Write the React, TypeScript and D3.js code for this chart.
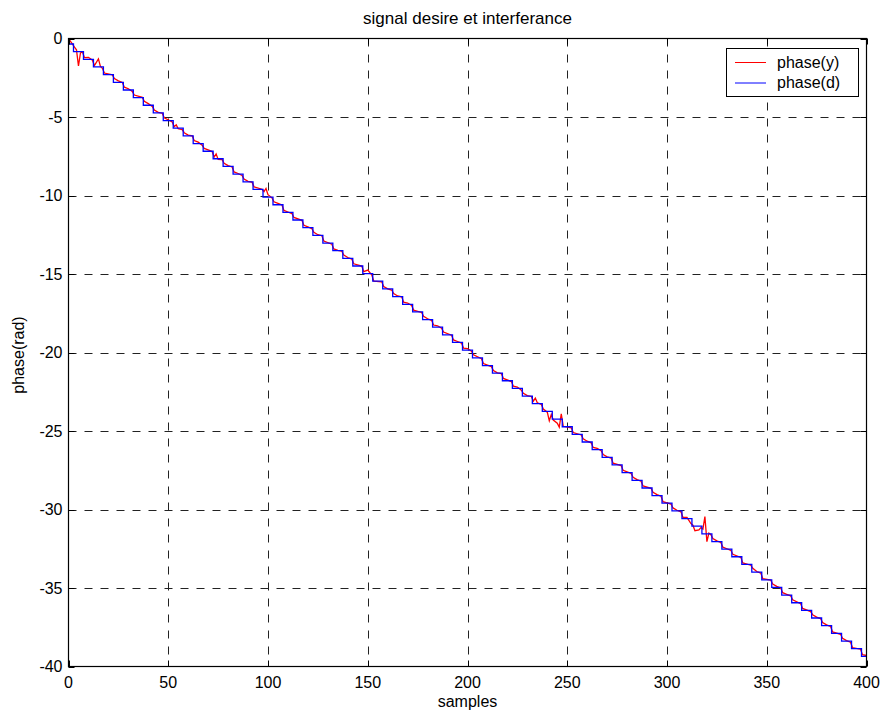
import * as d3 from 'd3';

// phase(d): step levels every 5 samples
const dSamples = [
  0, 5, 10, 15, 20, 25, 30, 35, 40, 45, 50, 55, 60, 65, 70, 75, 80, 85, 90, 95,
  100, 105, 110, 115, 120, 125, 130, 135, 140, 145, 150, 155, 160, 165, 170, 175, 180, 185, 190, 195,
  200, 205, 210, 215, 220, 225, 230, 235, 240, 245, 250, 255, 260, 265, 270, 275, 280, 285, 290, 295,
  300, 305, 310, 315, 320, 325, 330, 335, 340, 345, 350, 355, 360, 365, 370, 375, 380, 385, 390, 395,
  400,
];
const phaseD = [
  -0.35, -0.84, -1.33, -1.81, -2.30, -2.79, -3.28, -3.76, -4.25, -4.74,
  -5.23, -5.71, -6.20, -6.69, -7.18, -7.66, -8.15, -8.64, -9.13, -9.61,
  -10.10, -10.59, -11.08, -11.56, -12.05, -12.54, -13.03, -13.51, -14.00, -14.49,
  -14.98, -15.46, -15.95, -16.44, -16.93, -17.41, -17.90, -18.39, -18.88, -19.36,
  -19.85, -20.34, -20.83, -21.31, -21.80, -22.29, -22.78, -23.26, -23.75, -24.24,
  -24.73, -25.21, -25.70, -26.19, -26.68, -27.16, -27.65, -28.14, -28.63, -29.11,
  -29.60, -30.09, -30.58, -31.06, -31.55, -32.04, -32.53, -33.01, -33.50, -33.99,
  -34.48, -34.96, -35.45, -35.94, -36.43, -36.91, -37.40, -37.89, -38.38, -38.86,
  -39.35,
];

// phase(y): [sample, phase]
const phaseY: [number, number][] = [
  [0, 0], [1, -0.18], [2, -0.36], [3, -0.55], [4, -0.72], [5, -1.75], [6, -0.92], [7, -0.86], [8, -1.22],
  [10, -1.2], [12, -1.38], [13, -1.72], [15, -1.3], [16, -1.78], [17, -1.9], [18, -2.2],
  [22, -2.32], [23, -2.55], [25, -2.7], [27, -2.8], [28, -3.1], [30, -3.2], [32, -3.38], [33, -3.6],
  [37, -3.75], [38, -4.0], [40, -4.15], [42, -4.33], [43, -4.55], [45, -4.7], [47, -4.76], [48, -5.05],
  [52, -5.32], [53, -5.62], [54, -5.5], [55, -5.75], [57, -5.8], [58, -6.0], [60, -6.15],
  [62, -6.2], [63, -6.5], [65, -6.6], [67, -6.8], [68, -7.0], [70, -7.1], [72, -7.2], [73, -7.55], [74, -7.35], [75, -7.7],
  [77, -7.72], [78, -7.95], [80, -8.1], [82, -8.18], [83, -8.5], [85, -8.6], [87, -8.72], [88, -8.95], [90, -9.1],
  [92, -9.15], [93, -9.45], [97, -9.6], [98, -9.75], [99, -9.55], [100, -9.95],
  [102, -10.15], [103, -10.4], [105, -10.5], [107, -10.6], [108, -10.95], [110, -11.05], [112, -11.15], [113, -11.4],
  [117, -11.58], [118, -11.9], [120, -12.0], [122, -12.12], [123, -12.35], [125, -12.5], [127, -12.56], [128, -12.9],
  [132, -13.1], [133, -13.4], [135, -13.5], [137, -13.55], [138, -13.8], [140, -13.95], [142, -14.05], [143, -14.35],
  [147, -14.5], [148, -14.85], [150, -14.75], [152, -15.05], [153, -15.45], [157, -15.5], [158, -15.8], [160, -15.95],
  [162, -16.02], [163, -16.25], [165, -16.4], [167, -16.45], [168, -16.8], [170, -16.85], [172, -17.0], [173, -17.3],
  [177, -17.45], [178, -17.7], [180, -17.85], [182, -17.95], [183, -18.25], [185, -18.3], [187, -18.45], [188, -18.7],
  [192, -18.9], [193, -19.2], [195, -19.3], [197, -19.4], [198, -19.72], [200, -19.75], [202, -19.92], [203, -20.15],
  [207, -20.4], [208, -20.7], [210, -20.8], [212, -20.9], [213, -21.15], [215, -21.3], [217, -21.35], [218, -21.65],
  [222, -21.85], [223, -22.15], [225, -22.2], [227, -22.4], [228, -22.6], [230, -22.75],
  [232, -22.8], [233, -23.1], [234, -22.9], [235, -23.2], [237, -23.3], [238, -23.6],
  [240, -23.8], [241, -24.35], [242, -23.95], [243, -24.3], [245, -24.5], [246, -24.75], [247, -23.9], [248, -24.7],
  [252, -24.8], [253, -25.1], [257, -25.25], [258, -25.5], [260, -25.65], [262, -25.75], [263, -26.05], [265, -26.1],
  [267, -26.25], [268, -26.5], [270, -26.65], [272, -26.72], [273, -27.05], [277, -27.2], [278, -27.5], [280, -27.6],
  [282, -27.7], [283, -27.95], [285, -28.1], [287, -28.2], [288, -28.5], [292, -28.65], [293, -28.9], [295, -29.05],
  [297, -29.15], [298, -29.5], [302, -29.65], [303, -29.9], [305, -30.05], [307, -30.15], [308, -30.5], [310, -30.5],
  [312, -30.9], [313, -31.0], [314, -31.35], [316, -31.3], [317, -31.15], [318, -31.25], [319, -30.45], [320, -32.05], [321, -31.5],
  [322, -31.6], [323, -31.85], [325, -32.0], [327, -32.1], [328, -32.4], [330, -32.5], [332, -32.6], [333, -32.85],
  [337, -33.05], [338, -33.4], [342, -33.55], [343, -33.75], [345, -33.95], [347, -34.05], [348, -34.4],
  [352, -34.5], [353, -34.75], [355, -34.9], [357, -35.0], [358, -35.3], [360, -35.4], [362, -35.5], [363, -35.75],
  [367, -36.0], [368, -36.3], [372, -36.5], [373, -36.7], [375, -36.85], [377, -36.95], [378, -37.2], [380, -37.35],
  [382, -37.45], [383, -37.8], [387, -37.95], [388, -38.2], [390, -38.35], [392, -38.45], [393, -38.8],
  [397, -38.9], [398, -39.25], [400, -39.3],
];

const xTicks = [0, 50, 100, 150, 200, 250, 300, 350, 400];
const yTicks = [0, -5, -10, -15, -20, -25, -30, -35, -40];
const legendLabels = ['phase(y)', 'phase(d)'];
const seriesColors = ['#ff0000', '#0000ff'];

const W = 883;
const H = 714;
const FONT = '"Liberation Sans", Arial, Helvetica, sans-serif';

export default function App() {
  const x = d3.scaleLinear().domain([0, 400]).range([68.5, 866.5]);
  const y = d3.scaleLinear().domain([-40, 0]).range([666.5, 38.5]);
  const [x0, x1] = x.range();
  const [y0, y1] = y.range();

  const lineY = d3.line<[number, number]>()
    .x(d => x(d[0]))
    .y(d => y(d[1]));
  const lineD = d3.line<number>()
    .x((_, i) => x(dSamples[i]))
    .y(d => y(d))
    .curve(d3.curveStep);

  const tick = 6;

  return (
    <div style={{ position: 'absolute', left: 0, top: 0 }}>
      <svg width={W} height={H} style={{ display: 'block', background: '#fff' }} fontFamily={FONT}>
        <defs>
          <clipPath id="plot">
            <rect x={x0} y={y1} width={x1 - x0} height={y0 - y1} />
          </clipPath>
        </defs>

        {/* grid */}
        <g stroke="#222" strokeWidth={1} strokeDasharray="8,8">
          {xTicks.slice(1, -1).map(t => (
            <line key={'gx' + t} x1={Math.round(x(t)) + 0.5} x2={Math.round(x(t)) + 0.5} y1={y1} y2={y0} />
          ))}
          {yTicks.slice(1, -1).map(t => (
            <line key={'gy' + t} x1={x0} x2={x1} y1={Math.round(y(t)) + 0.5} y2={Math.round(y(t)) + 0.5} />
          ))}
        </g>

        {/* series */}
        <g clipPath="url(#plot)" fill="none" strokeWidth={1.3}>
          <path d={lineY(phaseY) || ''} stroke={seriesColors[0]} />
          <path d={lineD(phaseD) || ''} stroke={seriesColors[1]} />
        </g>

        {/* ticks */}
        <g stroke="#000" strokeWidth={1}>
          {xTicks.map(t => {
            const px = Math.round(x(t)) + 0.5;
            return (
              <g key={'tx' + t}>
                <line x1={px} x2={px} y1={y0} y2={y0 - tick} />
                <line x1={px} x2={px} y1={y1} y2={y1 + tick} />
              </g>
            );
          })}
          {yTicks.map(t => {
            const py = Math.round(y(t)) + 0.5;
            return (
              <g key={'ty' + t}>
                <line x1={x0} x2={x0 + tick} y1={py} y2={py} />
                <line x1={x1} x2={x1 - tick} y1={py} y2={py} />
              </g>
            );
          })}
        </g>

        {/* axes box */}
        <rect x={x0} y={y1} width={x1 - x0} height={y0 - y1} fill="none" stroke="#000" strokeWidth={1.2} />

        {/* tick labels */}
        <g fontSize={16} fill="#000">
          {xTicks.map(t => (
            <text key={'lx' + t} x={x(t)} y={y0 + 21} textAnchor="middle">{t}</text>
          ))}
          {yTicks.map(t => (
            <text key={'ly' + t} x={x0 - 6} y={y(t)} dy="0.35em" textAnchor="end">{t}</text>
          ))}
        </g>

        {/* title & labels */}
        <text x={(x0 + x1) / 2} y={24} textAnchor="middle" fontSize={17}>signal desire et interferance</text>
        <text x={(x0 + x1) / 2} y={707} textAnchor="middle" fontSize={16}>samples</text>
        <text transform={`translate(24,355) rotate(-90)`} textAnchor="middle" fontSize={16}>phase(rad)</text>

        {/* legend */}
        <g>
          <rect x={726.5} y={48.5} width={132} height={48} fill="#fff" stroke="#000" strokeWidth={1} />
          {legendLabels.map((lab, i) => (
            <g key={lab} transform={`translate(0,${62 + i * 20.5})`}>
              <line x1={735} x2={766} y1={0.5} y2={0.5} stroke={seriesColors[i]} strokeWidth={1} />
              <text x={777} y={0} dy="0.35em" fontSize={16}>{lab}</text>
            </g>
          ))}
        </g>
      </svg>
    </div>
  );
}
